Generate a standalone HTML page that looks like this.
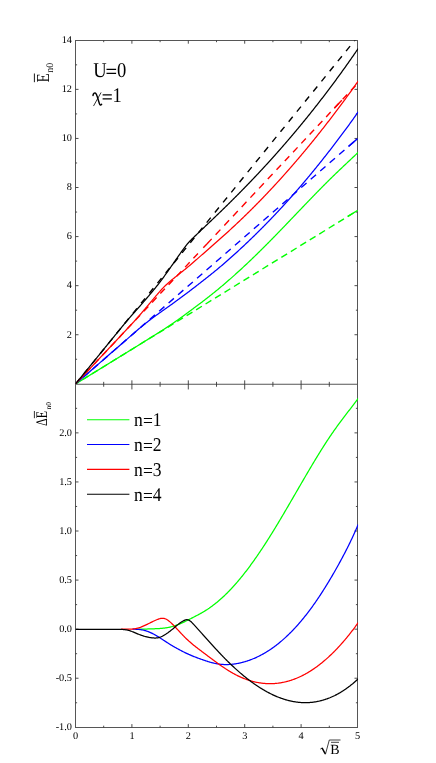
<!DOCTYPE html>
<html><head><meta charset="utf-8"><title>chart</title>
<style>
html,body{margin:0;padding:0;background:#fff;}
body{width:436px;height:763px;overflow:hidden;}
svg{display:block;font-family:"Liberation Serif",serif;fill:#000;text-rendering:geometricPrecision;will-change:transform;}
</style></head><body>
<svg width="436" height="763" viewBox="0 0 436 763">
<rect x="0" y="0" width="436" height="763" fill="#ffffff"/>
<defs><clipPath id="c1"><rect x="75.5" y="40.5" width="282.6" height="343.5"/></clipPath><clipPath id="c2"><rect x="75.5" y="384.0" width="282.6" height="343.5"/></clipPath></defs>
<g id="axes" shape-rendering="auto">
<line x1="75.50" y1="40.00" x2="75.50" y2="728.00" stroke="#565656" stroke-width="1"/>
<line x1="357.50" y1="40.00" x2="357.50" y2="728.00" stroke="#565656" stroke-width="1"/>
<line x1="75.50" y1="40.50" x2="357.50" y2="40.50" stroke="#565656" stroke-width="1"/>
<line x1="75.50" y1="384.25" x2="357.50" y2="384.25" stroke="#565656" stroke-width="1"/>
<line x1="75.50" y1="727.50" x2="357.50" y2="727.50" stroke="#565656" stroke-width="1"/>
<line x1="103.70" y1="40.50" x2="103.70" y2="42.20" stroke="#383838" stroke-width="0.9"/>
<line x1="103.70" y1="381.85" x2="103.70" y2="386.75" stroke="#383838" stroke-width="0.9"/>
<line x1="103.70" y1="725.70" x2="103.70" y2="727.50" stroke="#383838" stroke-width="0.9"/>
<line x1="131.90" y1="40.50" x2="131.90" y2="43.70" stroke="#383838" stroke-width="0.9"/>
<line x1="131.90" y1="380.35" x2="131.90" y2="389.45" stroke="#383838" stroke-width="0.9"/>
<line x1="131.90" y1="724.10" x2="131.90" y2="727.50" stroke="#383838" stroke-width="0.9"/>
<line x1="160.10" y1="40.50" x2="160.10" y2="42.20" stroke="#383838" stroke-width="0.9"/>
<line x1="160.10" y1="381.85" x2="160.10" y2="386.75" stroke="#383838" stroke-width="0.9"/>
<line x1="160.10" y1="725.70" x2="160.10" y2="727.50" stroke="#383838" stroke-width="0.9"/>
<line x1="188.30" y1="40.50" x2="188.30" y2="43.70" stroke="#383838" stroke-width="0.9"/>
<line x1="188.30" y1="380.35" x2="188.30" y2="389.45" stroke="#383838" stroke-width="0.9"/>
<line x1="188.30" y1="724.10" x2="188.30" y2="727.50" stroke="#383838" stroke-width="0.9"/>
<line x1="216.50" y1="40.50" x2="216.50" y2="42.20" stroke="#383838" stroke-width="0.9"/>
<line x1="216.50" y1="381.85" x2="216.50" y2="386.75" stroke="#383838" stroke-width="0.9"/>
<line x1="216.50" y1="725.70" x2="216.50" y2="727.50" stroke="#383838" stroke-width="0.9"/>
<line x1="244.70" y1="40.50" x2="244.70" y2="43.70" stroke="#383838" stroke-width="0.9"/>
<line x1="244.70" y1="380.35" x2="244.70" y2="389.45" stroke="#383838" stroke-width="0.9"/>
<line x1="244.70" y1="724.10" x2="244.70" y2="727.50" stroke="#383838" stroke-width="0.9"/>
<line x1="272.90" y1="40.50" x2="272.90" y2="42.20" stroke="#383838" stroke-width="0.9"/>
<line x1="272.90" y1="381.85" x2="272.90" y2="386.75" stroke="#383838" stroke-width="0.9"/>
<line x1="272.90" y1="725.70" x2="272.90" y2="727.50" stroke="#383838" stroke-width="0.9"/>
<line x1="301.10" y1="40.50" x2="301.10" y2="43.70" stroke="#383838" stroke-width="0.9"/>
<line x1="301.10" y1="380.35" x2="301.10" y2="389.45" stroke="#383838" stroke-width="0.9"/>
<line x1="301.10" y1="724.10" x2="301.10" y2="727.50" stroke="#383838" stroke-width="0.9"/>
<line x1="329.30" y1="40.50" x2="329.30" y2="42.20" stroke="#383838" stroke-width="0.9"/>
<line x1="329.30" y1="381.85" x2="329.30" y2="386.75" stroke="#383838" stroke-width="0.9"/>
<line x1="329.30" y1="725.70" x2="329.30" y2="727.50" stroke="#383838" stroke-width="0.9"/>
<line x1="75.50" y1="359.26" x2="77.10" y2="359.26" stroke="#383838" stroke-width="0.9"/>
<line x1="355.90" y1="359.26" x2="357.50" y2="359.26" stroke="#383838" stroke-width="0.9"/>
<line x1="75.50" y1="334.73" x2="78.50" y2="334.73" stroke="#383838" stroke-width="0.9"/>
<line x1="354.50" y1="334.73" x2="357.50" y2="334.73" stroke="#383838" stroke-width="0.9"/>
<line x1="75.50" y1="310.19" x2="77.10" y2="310.19" stroke="#383838" stroke-width="0.9"/>
<line x1="355.90" y1="310.19" x2="357.50" y2="310.19" stroke="#383838" stroke-width="0.9"/>
<line x1="75.50" y1="285.66" x2="78.50" y2="285.66" stroke="#383838" stroke-width="0.9"/>
<line x1="354.50" y1="285.66" x2="357.50" y2="285.66" stroke="#383838" stroke-width="0.9"/>
<line x1="75.50" y1="261.12" x2="77.10" y2="261.12" stroke="#383838" stroke-width="0.9"/>
<line x1="355.90" y1="261.12" x2="357.50" y2="261.12" stroke="#383838" stroke-width="0.9"/>
<line x1="75.50" y1="236.59" x2="78.50" y2="236.59" stroke="#383838" stroke-width="0.9"/>
<line x1="354.50" y1="236.59" x2="357.50" y2="236.59" stroke="#383838" stroke-width="0.9"/>
<line x1="75.50" y1="212.05" x2="77.10" y2="212.05" stroke="#383838" stroke-width="0.9"/>
<line x1="355.90" y1="212.05" x2="357.50" y2="212.05" stroke="#383838" stroke-width="0.9"/>
<line x1="75.50" y1="187.51" x2="78.50" y2="187.51" stroke="#383838" stroke-width="0.9"/>
<line x1="354.50" y1="187.51" x2="357.50" y2="187.51" stroke="#383838" stroke-width="0.9"/>
<line x1="75.50" y1="162.98" x2="77.10" y2="162.98" stroke="#383838" stroke-width="0.9"/>
<line x1="355.90" y1="162.98" x2="357.50" y2="162.98" stroke="#383838" stroke-width="0.9"/>
<line x1="75.50" y1="138.44" x2="78.50" y2="138.44" stroke="#383838" stroke-width="0.9"/>
<line x1="354.50" y1="138.44" x2="357.50" y2="138.44" stroke="#383838" stroke-width="0.9"/>
<line x1="75.50" y1="113.91" x2="77.10" y2="113.91" stroke="#383838" stroke-width="0.9"/>
<line x1="355.90" y1="113.91" x2="357.50" y2="113.91" stroke="#383838" stroke-width="0.9"/>
<line x1="75.50" y1="89.37" x2="78.50" y2="89.37" stroke="#383838" stroke-width="0.9"/>
<line x1="354.50" y1="89.37" x2="357.50" y2="89.37" stroke="#383838" stroke-width="0.9"/>
<line x1="75.50" y1="64.84" x2="77.10" y2="64.84" stroke="#383838" stroke-width="0.9"/>
<line x1="355.90" y1="64.84" x2="357.50" y2="64.84" stroke="#383838" stroke-width="0.9"/>
<line x1="75.50" y1="702.76" x2="77.10" y2="702.76" stroke="#383838" stroke-width="0.9"/>
<line x1="355.90" y1="702.76" x2="357.50" y2="702.76" stroke="#383838" stroke-width="0.9"/>
<line x1="75.50" y1="678.23" x2="78.50" y2="678.23" stroke="#383838" stroke-width="0.9"/>
<line x1="354.50" y1="678.23" x2="357.50" y2="678.23" stroke="#383838" stroke-width="0.9"/>
<line x1="75.50" y1="653.69" x2="77.10" y2="653.69" stroke="#383838" stroke-width="0.9"/>
<line x1="355.90" y1="653.69" x2="357.50" y2="653.69" stroke="#383838" stroke-width="0.9"/>
<line x1="75.50" y1="629.16" x2="78.50" y2="629.16" stroke="#383838" stroke-width="0.9"/>
<line x1="354.50" y1="629.16" x2="357.50" y2="629.16" stroke="#383838" stroke-width="0.9"/>
<line x1="75.50" y1="604.62" x2="77.10" y2="604.62" stroke="#383838" stroke-width="0.9"/>
<line x1="355.90" y1="604.62" x2="357.50" y2="604.62" stroke="#383838" stroke-width="0.9"/>
<line x1="75.50" y1="580.09" x2="78.50" y2="580.09" stroke="#383838" stroke-width="0.9"/>
<line x1="354.50" y1="580.09" x2="357.50" y2="580.09" stroke="#383838" stroke-width="0.9"/>
<line x1="75.50" y1="555.55" x2="77.10" y2="555.55" stroke="#383838" stroke-width="0.9"/>
<line x1="355.90" y1="555.55" x2="357.50" y2="555.55" stroke="#383838" stroke-width="0.9"/>
<line x1="75.50" y1="531.01" x2="78.50" y2="531.01" stroke="#383838" stroke-width="0.9"/>
<line x1="354.50" y1="531.01" x2="357.50" y2="531.01" stroke="#383838" stroke-width="0.9"/>
<line x1="75.50" y1="506.48" x2="77.10" y2="506.48" stroke="#383838" stroke-width="0.9"/>
<line x1="355.90" y1="506.48" x2="357.50" y2="506.48" stroke="#383838" stroke-width="0.9"/>
<line x1="75.50" y1="481.94" x2="78.50" y2="481.94" stroke="#383838" stroke-width="0.9"/>
<line x1="354.50" y1="481.94" x2="357.50" y2="481.94" stroke="#383838" stroke-width="0.9"/>
<line x1="75.50" y1="457.41" x2="77.10" y2="457.41" stroke="#383838" stroke-width="0.9"/>
<line x1="355.90" y1="457.41" x2="357.50" y2="457.41" stroke="#383838" stroke-width="0.9"/>
<line x1="75.50" y1="432.87" x2="78.50" y2="432.87" stroke="#383838" stroke-width="0.9"/>
<line x1="354.50" y1="432.87" x2="357.50" y2="432.87" stroke="#383838" stroke-width="0.9"/>
<line x1="75.50" y1="408.34" x2="77.10" y2="408.34" stroke="#383838" stroke-width="0.9"/>
<line x1="355.90" y1="408.34" x2="357.50" y2="408.34" stroke="#383838" stroke-width="0.9"/>
</g>
<g id="curves">
<g clip-path="url(#c1)">
<path d="M75.50,384.00 L200.60,250.69" stroke="#ff0000" stroke-width="1.4" fill="none" stroke-dasharray="6.6 5.49" stroke-dashoffset="9.0"/>
<path d="M203.30,247.82 L206.90,243.98" stroke="#ff0000" stroke-width="1.4" fill="none"/>
<path d="M206.90,243.98 L276.50,169.81" stroke="#ff0000" stroke-width="1.4" fill="none" stroke-dasharray="7.0 5.71" stroke-dashoffset="0"/>
<path d="M276.50,169.81 L357.50,83.50" stroke="#ff0000" stroke-width="1.4" fill="none" stroke-dasharray="6.6 5.49" stroke-dashoffset="0"/>
<path d="M334.30,108.22 L341.80,100.23" stroke="#ff0000" stroke-width="1.4" fill="none"/>
<path d="M347.80,216.47 L357.50,210.51" stroke="#00ff00" stroke-width="1.4" fill="none"/>
<path d="M348.50,146.47 L357.50,138.64" stroke="#0000ff" stroke-width="1.4" fill="none"/>
<path d="M75.50,384.00 L357.50,210.51" stroke="#00ff00" stroke-width="1.4" fill="none" stroke-dasharray="6.8 4.32" stroke-dashoffset="2.96"/>
<path d="M75.50,384.00 L357.50,138.64" stroke="#0000ff" stroke-width="1.4" fill="none" stroke-dasharray="7.0 5.56" stroke-dashoffset="2.18"/>
<path d="M75.50,384.00 L357.50,37.01" stroke="#000000" stroke-width="1.4" fill="none" stroke-dasharray="6.4 6.6" stroke-dashoffset="0"/>
<path d="M75.50,383.99 L76.06,383.64 L76.63,383.29 L77.19,382.94 L77.76,382.60 L78.32,382.25 L78.88,381.90 L79.45,381.56 L80.01,381.21 L80.58,380.86 L81.14,380.52 L81.70,380.17 L82.27,379.82 L82.83,379.47 L83.40,379.13 L83.96,378.78 L84.52,378.43 L85.09,378.09 L85.65,377.74 L86.22,377.39 L86.78,377.05 L87.34,376.70 L87.91,376.35 L88.47,376.01 L89.04,375.66 L89.60,375.31 L90.16,374.96 L90.73,374.62 L91.29,374.27 L91.86,373.92 L92.42,373.58 L92.98,373.23 L93.55,372.88 L94.11,372.54 L94.68,372.19 L95.24,371.84 L95.80,371.49 L96.37,371.15 L96.93,370.80 L97.50,370.45 L98.06,370.11 L98.62,369.76 L99.19,369.41 L99.75,369.07 L100.32,368.72 L100.88,368.37 L101.44,368.02 L102.01,367.68 L102.57,367.33 L103.14,366.98 L103.70,366.64 L104.26,366.29 L104.83,365.94 L105.39,365.60 L105.96,365.25 L106.52,364.90 L107.08,364.55 L107.65,364.21 L108.21,363.86 L108.78,363.51 L109.34,363.17 L109.90,362.82 L110.47,362.47 L111.03,362.13 L111.60,361.78 L112.16,361.43 L112.72,361.08 L113.29,360.74 L113.85,360.39 L114.42,360.04 L114.98,359.70 L115.54,359.35 L116.11,359.00 L116.67,358.66 L117.24,358.31 L117.80,357.96 L118.36,357.61 L118.93,357.27 L119.49,356.92 L120.06,356.57 L120.62,356.23 L121.18,355.88 L121.75,355.54 L122.31,355.19 L122.88,354.85 L123.44,354.50 L124.00,354.16 L124.57,353.81 L125.13,353.47 L125.70,353.12 L126.26,352.77 L126.82,352.43 L127.39,352.08 L127.95,351.73 L128.52,351.39 L129.08,351.04 L129.64,350.69 L130.21,350.34 L130.77,349.99 L131.34,349.65 L131.90,349.30 L132.46,348.95 L133.03,348.60 L133.59,348.25 L134.16,347.90 L134.72,347.55 L135.28,347.20 L135.85,346.86 L136.41,346.51 L136.98,346.16 L137.54,345.81 L138.10,345.46 L138.67,345.11 L139.23,344.76 L139.80,344.41 L140.36,344.06 L140.92,343.71 L141.49,343.36 L142.05,343.01 L142.62,342.65 L143.18,342.30 L143.74,341.95 L144.31,341.60 L144.87,341.25 L145.44,340.90 L146.00,340.55 L146.56,340.20 L147.13,339.85 L147.69,339.49 L148.26,339.14 L148.82,338.79 L149.38,338.44 L149.95,338.09 L150.51,337.74 L151.08,337.38 L151.64,337.03 L152.20,336.68 L152.77,336.33 L153.33,335.98 L153.90,335.63 L154.46,335.27 L155.02,334.92 L155.59,334.57 L156.15,334.22 L156.72,333.86 L157.28,333.51 L157.84,333.15 L158.41,332.80 L158.97,332.44 L159.54,332.09 L160.10,331.73 L160.66,331.37 L161.23,331.02 L161.79,330.66 L162.36,330.30 L162.92,329.94 L163.48,329.57 L164.05,329.21 L164.61,328.85 L165.18,328.48 L165.74,328.11 L166.30,327.75 L166.87,327.38 L167.43,327.01 L168.00,326.63 L168.56,326.26 L169.12,325.88 L169.69,325.51 L170.25,325.13 L170.82,324.75 L171.38,324.36 L171.94,323.98 L172.51,323.59 L173.07,323.21 L173.64,322.82 L174.20,322.43 L174.76,322.03 L175.33,321.64 L175.89,321.24 L176.46,320.85 L177.02,320.45 L177.58,320.05 L178.15,319.65 L178.71,319.25 L179.28,318.84 L179.84,318.44 L180.40,318.03 L180.97,317.62 L181.53,317.21 L182.10,316.80 L182.66,316.39 L183.22,315.98 L183.79,315.57 L184.35,315.15 L184.92,314.74 L185.48,314.33 L186.04,313.91 L186.61,313.49 L187.17,313.08 L187.74,312.66 L188.30,312.24 L188.86,311.82 L189.43,311.40 L189.99,310.98 L190.56,310.56 L191.12,310.14 L191.68,309.72 L192.25,309.30 L192.81,308.88 L193.38,308.46 L193.94,308.04 L194.50,307.62 L195.07,307.20 L195.63,306.78 L196.20,306.36 L196.76,305.94 L197.32,305.52 L197.89,305.10 L198.45,304.68 L199.02,304.25 L199.58,303.83 L200.14,303.41 L200.71,302.98 L201.27,302.56 L201.84,302.13 L202.40,301.70 L202.96,301.27 L203.53,300.84 L204.09,300.41 L204.66,299.98 L205.22,299.54 L205.78,299.11 L206.35,298.67 L206.91,298.23 L207.48,297.79 L208.04,297.35 L208.60,296.91 L209.17,296.46 L209.73,296.02 L210.30,295.57 L210.86,295.12 L211.42,294.68 L211.99,294.22 L212.55,293.77 L213.12,293.32 L213.68,292.87 L214.24,292.41 L214.81,291.95 L215.37,291.49 L215.94,291.03 L216.50,290.57 L217.06,290.11 L217.63,289.65 L218.19,289.18 L218.76,288.72 L219.32,288.25 L219.88,287.78 L220.45,287.31 L221.01,286.84 L221.58,286.36 L222.14,285.89 L222.70,285.41 L223.27,284.93 L223.83,284.46 L224.40,283.98 L224.96,283.49 L225.52,283.01 L226.09,282.53 L226.65,282.04 L227.22,281.55 L227.78,281.07 L228.34,280.58 L228.91,280.09 L229.47,279.59 L230.04,279.10 L230.60,278.60 L231.16,278.11 L231.73,277.61 L232.29,277.11 L232.86,276.61 L233.42,276.11 L233.98,275.61 L234.55,275.10 L235.11,274.60 L235.68,274.09 L236.24,273.58 L236.80,273.07 L237.37,272.56 L237.93,272.05 L238.50,271.53 L239.06,271.02 L239.62,270.50 L240.19,269.99 L240.75,269.47 L241.32,268.95 L241.88,268.43 L242.44,267.90 L243.01,267.38 L243.57,266.86 L244.14,266.33 L244.70,265.80 L245.26,265.28 L245.83,264.75 L246.39,264.22 L246.96,263.68 L247.52,263.15 L248.08,262.62 L248.65,262.08 L249.21,261.55 L249.78,261.01 L250.34,260.47 L250.90,259.93 L251.47,259.39 L252.03,258.85 L252.60,258.31 L253.16,257.76 L253.72,257.22 L254.29,256.67 L254.85,256.13 L255.42,255.58 L255.98,255.03 L256.54,254.48 L257.11,253.93 L257.67,253.38 L258.24,252.82 L258.80,252.27 L259.36,251.72 L259.93,251.16 L260.49,250.60 L261.06,250.05 L261.62,249.49 L262.18,248.93 L262.75,248.37 L263.31,247.80 L263.88,247.24 L264.44,246.68 L265.00,246.11 L265.57,245.55 L266.13,244.98 L266.70,244.42 L267.26,243.85 L267.82,243.28 L268.39,242.71 L268.95,242.14 L269.52,241.57 L270.08,241.00 L270.64,240.43 L271.21,239.85 L271.77,239.28 L272.34,238.70 L272.90,238.13 L273.46,237.55 L274.03,236.97 L274.59,236.40 L275.16,235.82 L275.72,235.24 L276.28,234.66 L276.85,234.08 L277.41,233.50 L277.98,232.92 L278.54,232.33 L279.10,231.75 L279.67,231.17 L280.23,230.59 L280.80,230.00 L281.36,229.42 L281.92,228.83 L282.49,228.25 L283.05,227.66 L283.62,227.08 L284.18,226.49 L284.74,225.90 L285.31,225.32 L285.87,224.73 L286.44,224.14 L287.00,223.55 L287.56,222.96 L288.13,222.37 L288.69,221.79 L289.26,221.20 L289.82,220.61 L290.38,220.02 L290.95,219.43 L291.51,218.84 L292.08,218.25 L292.64,217.66 L293.20,217.07 L293.77,216.48 L294.33,215.89 L294.90,215.30 L295.46,214.71 L296.02,214.12 L296.59,213.53 L297.15,212.94 L297.72,212.35 L298.28,211.76 L298.84,211.17 L299.41,210.58 L299.97,209.99 L300.54,209.40 L301.10,208.81 L301.66,208.22 L302.23,207.63 L302.79,207.04 L303.36,206.45 L303.92,205.86 L304.48,205.27 L305.05,204.68 L305.61,204.09 L306.18,203.51 L306.74,202.92 L307.30,202.33 L307.87,201.74 L308.43,201.16 L309.00,200.57 L309.56,199.99 L310.12,199.40 L310.69,198.82 L311.25,198.23 L311.82,197.65 L312.38,197.06 L312.94,196.48 L313.51,195.90 L314.07,195.32 L314.64,194.74 L315.20,194.16 L315.76,193.58 L316.33,193.00 L316.89,192.42 L317.46,191.84 L318.02,191.26 L318.58,190.69 L319.15,190.11 L319.71,189.53 L320.28,188.96 L320.84,188.39 L321.40,187.82 L321.97,187.24 L322.53,186.67 L323.10,186.10 L323.66,185.53 L324.22,184.97 L324.79,184.40 L325.35,183.83 L325.92,183.27 L326.48,182.71 L327.04,182.14 L327.61,181.58 L328.17,181.02 L328.74,180.46 L329.30,179.90 L329.86,179.35 L330.43,178.79 L330.99,178.24 L331.56,177.68 L332.12,177.13 L332.68,176.58 L333.25,176.03 L333.81,175.48 L334.38,174.94 L334.94,174.39 L335.50,173.84 L336.07,173.30 L336.63,172.76 L337.20,172.22 L337.76,171.68 L338.32,171.14 L338.89,170.60 L339.45,170.06 L340.02,169.52 L340.58,168.99 L341.14,168.45 L341.71,167.92 L342.27,167.38 L342.84,166.85 L343.40,166.31 L343.96,165.78 L344.53,165.25 L345.09,164.72 L345.66,164.18 L346.22,163.65 L346.78,163.12 L347.35,162.59 L347.91,162.06 L348.48,161.53 L349.04,161.00 L349.60,160.47 L350.17,159.94 L350.73,159.40 L351.30,158.87 L351.86,158.34 L352.42,157.81 L352.99,157.28 L353.55,156.75 L354.12,156.22 L354.68,155.68 L355.24,155.15 L355.81,154.62 L356.37,154.09 L356.94,153.55 L357.50,153.02 L358.20,152.35" stroke="#00ff00" stroke-width="1.25" fill="none" stroke-linejoin="round" stroke-linecap="butt"/>
<path d="M75.50,383.99 L76.06,383.50 L76.63,383.00 L77.19,382.51 L77.76,382.02 L78.32,381.53 L78.88,381.04 L79.45,380.55 L80.01,380.06 L80.58,379.57 L81.14,379.08 L81.70,378.59 L82.27,378.10 L82.83,377.61 L83.40,377.12 L83.96,376.62 L84.52,376.13 L85.09,375.64 L85.65,375.15 L86.22,374.66 L86.78,374.17 L87.34,373.68 L87.91,373.19 L88.47,372.70 L89.04,372.21 L89.60,371.72 L90.16,371.23 L90.73,370.74 L91.29,370.25 L91.86,369.75 L92.42,369.26 L92.98,368.77 L93.55,368.28 L94.11,367.79 L94.68,367.30 L95.24,366.81 L95.80,366.32 L96.37,365.83 L96.93,365.34 L97.50,364.85 L98.06,364.36 L98.62,363.87 L99.19,363.38 L99.75,362.88 L100.32,362.39 L100.88,361.90 L101.44,361.41 L102.01,360.92 L102.57,360.43 L103.14,359.94 L103.70,359.45 L104.26,358.96 L104.83,358.47 L105.39,357.98 L105.96,357.49 L106.52,357.00 L107.08,356.51 L107.65,356.01 L108.21,355.52 L108.78,355.03 L109.34,354.54 L109.90,354.05 L110.47,353.56 L111.03,353.07 L111.60,352.58 L112.16,352.09 L112.72,351.60 L113.29,351.11 L113.85,350.62 L114.42,350.13 L114.98,349.64 L115.54,349.14 L116.11,348.65 L116.67,348.16 L117.24,347.67 L117.80,347.18 L118.36,346.69 L118.93,346.20 L119.49,345.71 L120.06,345.22 L120.62,344.74 L121.18,344.26 L121.75,343.77 L122.31,343.29 L122.88,342.80 L123.44,342.31 L124.00,341.82 L124.57,341.33 L125.13,340.84 L125.70,340.34 L126.26,339.85 L126.82,339.36 L127.39,338.86 L127.95,338.37 L128.52,337.87 L129.08,337.38 L129.64,336.88 L130.21,336.39 L130.77,335.89 L131.34,335.40 L131.90,334.90 L132.46,334.41 L133.03,333.92 L133.59,333.43 L134.16,332.93 L134.72,332.45 L135.28,331.96 L135.85,331.47 L136.41,330.98 L136.98,330.50 L137.54,330.02 L138.10,329.54 L138.67,329.06 L139.23,328.58 L139.80,328.11 L140.36,327.64 L140.92,327.16 L141.49,326.70 L142.05,326.23 L142.62,325.77 L143.18,325.31 L143.74,324.85 L144.31,324.39 L144.87,323.94 L145.44,323.49 L146.00,323.04 L146.56,322.59 L147.13,322.15 L147.69,321.71 L148.26,321.27 L148.82,320.83 L149.38,320.40 L149.95,319.97 L150.51,319.54 L151.08,319.12 L151.64,318.69 L152.20,318.27 L152.77,317.85 L153.33,317.43 L153.90,317.02 L154.46,316.60 L155.02,316.19 L155.59,315.78 L156.15,315.37 L156.72,314.96 L157.28,314.56 L157.84,314.15 L158.41,313.75 L158.97,313.34 L159.54,312.94 L160.10,312.54 L160.66,312.14 L161.23,311.74 L161.79,311.34 L162.36,310.94 L162.92,310.55 L163.48,310.15 L164.05,309.75 L164.61,309.35 L165.18,308.95 L165.74,308.55 L166.30,308.16 L166.87,307.76 L167.43,307.36 L168.00,306.96 L168.56,306.56 L169.12,306.15 L169.69,305.75 L170.25,305.35 L170.82,304.94 L171.38,304.54 L171.94,304.13 L172.51,303.72 L173.07,303.32 L173.64,302.91 L174.20,302.50 L174.76,302.09 L175.33,301.68 L175.89,301.27 L176.46,300.85 L177.02,300.44 L177.58,300.03 L178.15,299.61 L178.71,299.20 L179.28,298.79 L179.84,298.37 L180.40,297.96 L180.97,297.54 L181.53,297.12 L182.10,296.71 L182.66,296.29 L183.22,295.87 L183.79,295.45 L184.35,295.03 L184.92,294.61 L185.48,294.19 L186.04,293.76 L186.61,293.34 L187.17,292.91 L187.74,292.49 L188.30,292.06 L188.86,291.63 L189.43,291.21 L189.99,290.78 L190.56,290.35 L191.12,289.91 L191.68,289.48 L192.25,289.05 L192.81,288.62 L193.38,288.18 L193.94,287.75 L194.50,287.31 L195.07,286.88 L195.63,286.44 L196.20,286.01 L196.76,285.57 L197.32,285.13 L197.89,284.69 L198.45,284.25 L199.02,283.81 L199.58,283.37 L200.14,282.93 L200.71,282.49 L201.27,282.05 L201.84,281.61 L202.40,281.17 L202.96,280.73 L203.53,280.29 L204.09,279.84 L204.66,279.40 L205.22,278.96 L205.78,278.51 L206.35,278.07 L206.91,277.62 L207.48,277.18 L208.04,276.73 L208.60,276.28 L209.17,275.84 L209.73,275.39 L210.30,274.94 L210.86,274.49 L211.42,274.03 L211.99,273.58 L212.55,273.13 L213.12,272.67 L213.68,272.21 L214.24,271.76 L214.81,271.30 L215.37,270.84 L215.94,270.37 L216.50,269.91 L217.06,269.44 L217.63,268.98 L218.19,268.51 L218.76,268.04 L219.32,267.56 L219.88,267.09 L220.45,266.62 L221.01,266.14 L221.58,265.66 L222.14,265.18 L222.70,264.70 L223.27,264.22 L223.83,263.73 L224.40,263.25 L224.96,262.76 L225.52,262.27 L226.09,261.78 L226.65,261.29 L227.22,260.80 L227.78,260.30 L228.34,259.81 L228.91,259.31 L229.47,258.81 L230.04,258.31 L230.60,257.81 L231.16,257.31 L231.73,256.81 L232.29,256.30 L232.86,255.79 L233.42,255.29 L233.98,254.78 L234.55,254.27 L235.11,253.76 L235.68,253.24 L236.24,252.73 L236.80,252.22 L237.37,251.70 L237.93,251.18 L238.50,250.66 L239.06,250.14 L239.62,249.62 L240.19,249.10 L240.75,248.58 L241.32,248.05 L241.88,247.53 L242.44,247.00 L243.01,246.47 L243.57,245.95 L244.14,245.42 L244.70,244.88 L245.26,244.35 L245.83,243.82 L246.39,243.29 L246.96,242.75 L247.52,242.21 L248.08,241.68 L248.65,241.14 L249.21,240.60 L249.78,240.05 L250.34,239.51 L250.90,238.97 L251.47,238.42 L252.03,237.88 L252.60,237.33 L253.16,236.78 L253.72,236.23 L254.29,235.68 L254.85,235.13 L255.42,234.58 L255.98,234.02 L256.54,233.47 L257.11,232.91 L257.67,232.36 L258.24,231.80 L258.80,231.24 L259.36,230.68 L259.93,230.11 L260.49,229.55 L261.06,228.98 L261.62,228.42 L262.18,227.85 L262.75,227.28 L263.31,226.71 L263.88,226.14 L264.44,225.57 L265.00,225.00 L265.57,224.42 L266.13,223.85 L266.70,223.27 L267.26,222.69 L267.82,222.11 L268.39,221.53 L268.95,220.95 L269.52,220.37 L270.08,219.78 L270.64,219.20 L271.21,218.61 L271.77,218.02 L272.34,217.43 L272.90,216.84 L273.46,216.25 L274.03,215.65 L274.59,215.06 L275.16,214.46 L275.72,213.87 L276.28,213.27 L276.85,212.67 L277.41,212.07 L277.98,211.47 L278.54,210.86 L279.10,210.26 L279.67,209.65 L280.23,209.04 L280.80,208.44 L281.36,207.83 L281.92,207.21 L282.49,206.60 L283.05,205.99 L283.62,205.37 L284.18,204.76 L284.74,204.14 L285.31,203.52 L285.87,202.90 L286.44,202.28 L287.00,201.65 L287.56,201.03 L288.13,200.40 L288.69,199.78 L289.26,199.15 L289.82,198.52 L290.38,197.89 L290.95,197.25 L291.51,196.62 L292.08,195.99 L292.64,195.35 L293.20,194.71 L293.77,194.07 L294.33,193.43 L294.90,192.79 L295.46,192.15 L296.02,191.50 L296.59,190.85 L297.15,190.21 L297.72,189.56 L298.28,188.91 L298.84,188.26 L299.41,187.60 L299.97,186.95 L300.54,186.29 L301.10,185.64 L301.66,184.98 L302.23,184.32 L302.79,183.66 L303.36,182.99 L303.92,182.33 L304.48,181.66 L305.05,181.00 L305.61,180.33 L306.18,179.66 L306.74,178.99 L307.30,178.31 L307.87,177.64 L308.43,176.96 L309.00,176.29 L309.56,175.61 L310.12,174.93 L310.69,174.25 L311.25,173.56 L311.82,172.88 L312.38,172.19 L312.94,171.51 L313.51,170.82 L314.07,170.13 L314.64,169.44 L315.20,168.75 L315.76,168.05 L316.33,167.36 L316.89,166.66 L317.46,165.96 L318.02,165.26 L318.58,164.56 L319.15,163.86 L319.71,163.16 L320.28,162.45 L320.84,161.74 L321.40,161.04 L321.97,160.33 L322.53,159.62 L323.10,158.91 L323.66,158.19 L324.22,157.48 L324.79,156.76 L325.35,156.05 L325.92,155.33 L326.48,154.61 L327.04,153.89 L327.61,153.17 L328.17,152.45 L328.74,151.72 L329.30,151.00 L329.86,150.27 L330.43,149.54 L330.99,148.81 L331.56,148.08 L332.12,147.35 L332.68,146.62 L333.25,145.88 L333.81,145.15 L334.38,144.41 L334.94,143.68 L335.50,142.94 L336.07,142.20 L336.63,141.46 L337.20,140.71 L337.76,139.97 L338.32,139.23 L338.89,138.48 L339.45,137.73 L340.02,136.98 L340.58,136.24 L341.14,135.48 L341.71,134.73 L342.27,133.98 L342.84,133.22 L343.40,132.47 L343.96,131.71 L344.53,130.95 L345.09,130.19 L345.66,129.42 L346.22,128.66 L346.78,127.89 L347.35,127.12 L347.91,126.34 L348.48,125.57 L349.04,124.79 L349.60,124.01 L350.17,123.23 L350.73,122.45 L351.30,121.66 L351.86,120.87 L352.42,120.08 L352.99,119.29 L353.55,118.49 L354.12,117.69 L354.68,116.88 L355.24,116.08 L355.81,115.27 L356.37,114.45 L356.94,113.64 L357.50,112.82 L358.20,111.80" stroke="#0000ff" stroke-width="1.25" fill="none" stroke-linejoin="round" stroke-linecap="butt"/>
<path d="M75.50,383.99 L76.06,383.38 L76.63,382.78 L77.19,382.18 L77.76,381.58 L78.32,380.98 L78.88,380.38 L79.45,379.78 L80.01,379.18 L80.58,378.58 L81.14,377.98 L81.70,377.37 L82.27,376.77 L82.83,376.17 L83.40,375.57 L83.96,374.97 L84.52,374.37 L85.09,373.77 L85.65,373.17 L86.22,372.57 L86.78,371.97 L87.34,371.36 L87.91,370.76 L88.47,370.16 L89.04,369.56 L89.60,368.96 L90.16,368.36 L90.73,367.76 L91.29,367.16 L91.86,366.56 L92.42,365.96 L92.98,365.35 L93.55,364.75 L94.11,364.15 L94.68,363.55 L95.24,362.95 L95.80,362.35 L96.37,361.75 L96.93,361.15 L97.50,360.55 L98.06,359.95 L98.62,359.34 L99.19,358.74 L99.75,358.14 L100.32,357.54 L100.88,356.94 L101.44,356.34 L102.01,355.74 L102.57,355.14 L103.14,354.54 L103.70,353.94 L104.26,353.33 L104.83,352.73 L105.39,352.13 L105.96,351.53 L106.52,350.93 L107.08,350.33 L107.65,349.73 L108.21,349.13 L108.78,348.53 L109.34,347.93 L109.90,347.32 L110.47,346.72 L111.03,346.12 L111.60,345.52 L112.16,344.92 L112.72,344.32 L113.29,343.72 L113.85,343.12 L114.42,342.52 L114.98,341.92 L115.54,341.31 L116.11,340.71 L116.67,340.11 L117.24,339.51 L117.80,338.91 L118.36,338.31 L118.93,337.71 L119.49,337.11 L120.06,336.51 L120.62,335.90 L121.18,335.29 L121.75,334.69 L122.31,334.08 L122.88,333.48 L123.44,332.88 L124.00,332.27 L124.57,331.67 L125.13,331.07 L125.70,330.47 L126.26,329.87 L126.82,329.27 L127.39,328.67 L127.95,328.07 L128.52,327.46 L129.08,326.86 L129.64,326.26 L130.21,325.65 L130.77,325.04 L131.34,324.44 L131.90,323.83 L132.46,323.21 L133.03,322.60 L133.59,321.98 L134.16,321.37 L134.72,320.74 L135.28,320.12 L135.85,319.49 L136.41,318.86 L136.98,318.23 L137.54,317.59 L138.10,316.95 L138.67,316.31 L139.23,315.67 L139.80,315.02 L140.36,314.37 L140.92,313.72 L141.49,313.06 L142.05,312.41 L142.62,311.75 L143.18,311.09 L143.74,310.42 L144.31,309.76 L144.87,309.10 L145.44,308.43 L146.00,307.76 L146.56,307.09 L147.13,306.42 L147.69,305.75 L148.26,305.08 L148.82,304.41 L149.38,303.74 L149.95,303.07 L150.51,302.40 L151.08,301.73 L151.64,301.06 L152.20,300.38 L152.77,299.71 L153.33,299.04 L153.90,298.38 L154.46,297.71 L155.02,297.04 L155.59,296.38 L156.15,295.72 L156.72,295.05 L157.28,294.40 L157.84,293.74 L158.41,293.09 L158.97,292.44 L159.54,291.80 L160.10,291.16 L160.66,290.52 L161.23,289.90 L161.79,289.28 L162.36,288.67 L162.92,288.07 L163.48,287.48 L164.05,286.90 L164.61,286.34 L165.18,285.79 L165.74,285.25 L166.30,284.71 L166.87,284.19 L167.43,283.68 L168.00,283.17 L168.56,282.67 L169.12,282.18 L169.69,281.70 L170.25,281.22 L170.82,280.75 L171.38,280.28 L171.94,279.81 L172.51,279.35 L173.07,278.89 L173.64,278.43 L174.20,277.98 L174.76,277.53 L175.33,277.07 L175.89,276.62 L176.46,276.17 L177.02,275.72 L177.58,275.27 L178.15,274.82 L178.71,274.38 L179.28,273.93 L179.84,273.48 L180.40,273.03 L180.97,272.58 L181.53,272.13 L182.10,271.68 L182.66,271.22 L183.22,270.77 L183.79,270.32 L184.35,269.86 L184.92,269.40 L185.48,268.94 L186.04,268.48 L186.61,268.01 L187.17,267.55 L187.74,267.08 L188.30,266.61 L188.86,266.13 L189.43,265.66 L189.99,265.18 L190.56,264.70 L191.12,264.22 L191.68,263.74 L192.25,263.26 L192.81,262.77 L193.38,262.29 L193.94,261.80 L194.50,261.31 L195.07,260.82 L195.63,260.33 L196.20,259.84 L196.76,259.35 L197.32,258.86 L197.89,258.36 L198.45,257.87 L199.02,257.37 L199.58,256.88 L200.14,256.39 L200.71,255.89 L201.27,255.40 L201.84,254.90 L202.40,254.41 L202.96,253.91 L203.53,253.42 L204.09,252.92 L204.66,252.43 L205.22,251.93 L205.78,251.44 L206.35,250.94 L206.91,250.45 L207.48,249.95 L208.04,249.46 L208.60,248.97 L209.17,248.47 L209.73,247.98 L210.30,247.48 L210.86,246.99 L211.42,246.49 L211.99,246.00 L212.55,245.50 L213.12,245.00 L213.68,244.51 L214.24,244.01 L214.81,243.51 L215.37,243.02 L215.94,242.52 L216.50,242.02 L217.06,241.52 L217.63,241.02 L218.19,240.52 L218.76,240.02 L219.32,239.52 L219.88,239.02 L220.45,238.52 L221.01,238.02 L221.58,237.52 L222.14,237.01 L222.70,236.51 L223.27,236.00 L223.83,235.50 L224.40,234.99 L224.96,234.48 L225.52,233.97 L226.09,233.46 L226.65,232.95 L227.22,232.44 L227.78,231.93 L228.34,231.42 L228.91,230.91 L229.47,230.39 L230.04,229.87 L230.60,229.36 L231.16,228.84 L231.73,228.32 L232.29,227.80 L232.86,227.28 L233.42,226.76 L233.98,226.23 L234.55,225.71 L235.11,225.18 L235.68,224.66 L236.24,224.13 L236.80,223.60 L237.37,223.07 L237.93,222.53 L238.50,222.00 L239.06,221.47 L239.62,220.93 L240.19,220.39 L240.75,219.86 L241.32,219.32 L241.88,218.78 L242.44,218.24 L243.01,217.69 L243.57,217.15 L244.14,216.60 L244.70,216.06 L245.26,215.51 L245.83,214.96 L246.39,214.41 L246.96,213.86 L247.52,213.31 L248.08,212.76 L248.65,212.20 L249.21,211.65 L249.78,211.09 L250.34,210.53 L250.90,209.97 L251.47,209.41 L252.03,208.85 L252.60,208.29 L253.16,207.72 L253.72,207.16 L254.29,206.59 L254.85,206.02 L255.42,205.45 L255.98,204.88 L256.54,204.31 L257.11,203.74 L257.67,203.16 L258.24,202.59 L258.80,202.01 L259.36,201.44 L259.93,200.86 L260.49,200.28 L261.06,199.70 L261.62,199.11 L262.18,198.53 L262.75,197.95 L263.31,197.36 L263.88,196.77 L264.44,196.18 L265.00,195.59 L265.57,195.00 L266.13,194.41 L266.70,193.82 L267.26,193.22 L267.82,192.63 L268.39,192.03 L268.95,191.43 L269.52,190.83 L270.08,190.23 L270.64,189.63 L271.21,189.03 L271.77,188.42 L272.34,187.82 L272.90,187.21 L273.46,186.61 L274.03,186.00 L274.59,185.39 L275.16,184.77 L275.72,184.16 L276.28,183.55 L276.85,182.93 L277.41,182.32 L277.98,181.70 L278.54,181.08 L279.10,180.46 L279.67,179.84 L280.23,179.22 L280.80,178.59 L281.36,177.97 L281.92,177.34 L282.49,176.71 L283.05,176.08 L283.62,175.45 L284.18,174.82 L284.74,174.19 L285.31,173.56 L285.87,172.92 L286.44,172.29 L287.00,171.65 L287.56,171.01 L288.13,170.37 L288.69,169.73 L289.26,169.09 L289.82,168.44 L290.38,167.80 L290.95,167.15 L291.51,166.51 L292.08,165.86 L292.64,165.21 L293.20,164.56 L293.77,163.90 L294.33,163.25 L294.90,162.60 L295.46,161.94 L296.02,161.28 L296.59,160.63 L297.15,159.97 L297.72,159.30 L298.28,158.64 L298.84,157.98 L299.41,157.31 L299.97,156.65 L300.54,155.98 L301.10,155.31 L301.66,154.64 L302.23,153.97 L302.79,153.30 L303.36,152.63 L303.92,151.95 L304.48,151.28 L305.05,150.60 L305.61,149.92 L306.18,149.24 L306.74,148.56 L307.30,147.88 L307.87,147.20 L308.43,146.51 L309.00,145.82 L309.56,145.14 L310.12,144.45 L310.69,143.76 L311.25,143.07 L311.82,142.38 L312.38,141.68 L312.94,140.99 L313.51,140.29 L314.07,139.59 L314.64,138.90 L315.20,138.20 L315.76,137.50 L316.33,136.79 L316.89,136.09 L317.46,135.38 L318.02,134.68 L318.58,133.97 L319.15,133.26 L319.71,132.55 L320.28,131.84 L320.84,131.13 L321.40,130.42 L321.97,129.70 L322.53,128.98 L323.10,128.27 L323.66,127.55 L324.22,126.83 L324.79,126.11 L325.35,125.38 L325.92,124.66 L326.48,123.94 L327.04,123.21 L327.61,122.48 L328.17,121.75 L328.74,121.02 L329.30,120.29 L329.86,119.56 L330.43,118.82 L330.99,118.09 L331.56,117.35 L332.12,116.61 L332.68,115.87 L333.25,115.13 L333.81,114.39 L334.38,113.65 L334.94,112.91 L335.50,112.16 L336.07,111.41 L336.63,110.66 L337.20,109.92 L337.76,109.16 L338.32,108.41 L338.89,107.66 L339.45,106.90 L340.02,106.15 L340.58,105.39 L341.14,104.63 L341.71,103.87 L342.27,103.11 L342.84,102.35 L343.40,101.59 L343.96,100.82 L344.53,100.06 L345.09,99.29 L345.66,98.52 L346.22,97.75 L346.78,96.98 L347.35,96.21 L347.91,95.43 L348.48,94.66 L349.04,93.88 L349.60,93.10 L350.17,92.32 L350.73,91.54 L351.30,90.76 L351.86,89.98 L352.42,89.19 L352.99,88.41 L353.55,87.62 L354.12,86.83 L354.68,86.04 L355.24,85.25 L355.81,84.46 L356.37,83.67 L356.94,82.87 L357.50,82.08 L358.20,81.09" stroke="#ff0000" stroke-width="1.25" fill="none" stroke-linejoin="round" stroke-linecap="butt"/>
<path d="M75.50,383.99 L76.06,383.29 L76.63,382.60 L77.19,381.90 L77.76,381.21 L78.32,380.52 L78.88,379.82 L79.45,379.13 L80.01,378.43 L80.58,377.74 L81.14,377.05 L81.70,376.35 L82.27,375.66 L82.83,374.96 L83.40,374.27 L83.96,373.58 L84.52,372.88 L85.09,372.19 L85.65,371.49 L86.22,370.80 L86.78,370.11 L87.34,369.41 L87.91,368.72 L88.47,368.02 L89.04,367.33 L89.60,366.64 L90.16,365.94 L90.73,365.25 L91.29,364.55 L91.86,363.86 L92.42,363.17 L92.98,362.47 L93.55,361.78 L94.11,361.08 L94.68,360.39 L95.24,359.70 L95.80,359.00 L96.37,358.31 L96.93,357.61 L97.50,356.92 L98.06,356.23 L98.62,355.53 L99.19,354.84 L99.75,354.14 L100.32,353.45 L100.88,352.76 L101.44,352.06 L102.01,351.37 L102.57,350.67 L103.14,349.98 L103.70,349.29 L104.26,348.59 L104.83,347.90 L105.39,347.21 L105.96,346.51 L106.52,345.82 L107.08,345.12 L107.65,344.43 L108.21,343.74 L108.78,343.04 L109.34,342.35 L109.90,341.65 L110.47,340.96 L111.03,340.27 L111.60,339.57 L112.16,338.88 L112.72,338.18 L113.29,337.49 L113.85,336.80 L114.42,336.10 L114.98,335.41 L115.54,334.72 L116.11,334.03 L116.67,333.34 L117.24,332.65 L117.80,331.96 L118.36,331.26 L118.93,330.57 L119.49,329.88 L120.06,329.19 L120.62,328.50 L121.18,327.81 L121.75,327.12 L122.31,326.43 L122.88,325.74 L123.44,325.06 L124.00,324.37 L124.57,323.69 L125.13,323.02 L125.70,322.34 L126.26,321.67 L126.82,321.00 L127.39,320.33 L127.95,319.67 L128.52,319.01 L129.08,318.36 L129.64,317.71 L130.21,317.06 L130.77,316.42 L131.34,315.78 L131.90,315.14 L132.46,314.50 L133.03,313.86 L133.59,313.23 L134.16,312.59 L134.72,311.96 L135.28,311.32 L135.85,310.69 L136.41,310.06 L136.98,309.42 L137.54,308.78 L138.10,308.15 L138.67,307.51 L139.23,306.87 L139.80,306.23 L140.36,305.59 L140.92,304.94 L141.49,304.30 L142.05,303.65 L142.62,303.01 L143.18,302.36 L143.74,301.71 L144.31,301.05 L144.87,300.40 L145.44,299.75 L146.00,299.09 L146.56,298.43 L147.13,297.77 L147.69,297.11 L148.26,296.45 L148.82,295.78 L149.38,295.11 L149.95,294.44 L150.51,293.77 L151.08,293.10 L151.64,292.42 L152.20,291.74 L152.77,291.06 L153.33,290.38 L153.90,289.69 L154.46,289.01 L155.02,288.31 L155.59,287.62 L156.15,286.92 L156.72,286.21 L157.28,285.50 L157.84,284.79 L158.41,284.07 L158.97,283.34 L159.54,282.60 L160.10,281.86 L160.66,281.12 L161.23,280.36 L161.79,279.60 L162.36,278.84 L162.92,278.07 L163.48,277.30 L164.05,276.52 L164.61,275.74 L165.18,274.96 L165.74,274.17 L166.30,273.38 L166.87,272.60 L167.43,271.80 L168.00,271.01 L168.56,270.22 L169.12,269.42 L169.69,268.62 L170.25,267.82 L170.82,267.01 L171.38,266.21 L171.94,265.40 L172.51,264.59 L173.07,263.78 L173.64,262.97 L174.20,262.16 L174.76,261.34 L175.33,260.52 L175.89,259.71 L176.46,258.89 L177.02,258.08 L177.58,257.27 L178.15,256.46 L178.71,255.65 L179.28,254.84 L179.84,254.04 L180.40,253.25 L180.97,252.46 L181.53,251.67 L182.10,250.89 L182.66,250.12 L183.22,249.35 L183.79,248.58 L184.35,247.82 L184.92,247.06 L185.48,246.32 L186.04,245.59 L186.61,244.88 L187.17,244.18 L187.74,243.51 L188.30,242.86 L188.86,242.22 L189.43,241.61 L189.99,241.01 L190.56,240.42 L191.12,239.85 L191.68,239.29 L192.25,238.73 L192.81,238.18 L193.38,237.64 L193.94,237.10 L194.50,236.56 L195.07,236.02 L195.63,235.48 L196.20,234.94 L196.76,234.41 L197.32,233.87 L197.89,233.33 L198.45,232.79 L199.02,232.26 L199.58,231.72 L200.14,231.18 L200.71,230.65 L201.27,230.11 L201.84,229.57 L202.40,229.04 L202.96,228.50 L203.53,227.96 L204.09,227.43 L204.66,226.89 L205.22,226.36 L205.78,225.82 L206.35,225.28 L206.91,224.75 L207.48,224.21 L208.04,223.67 L208.60,223.14 L209.17,222.60 L209.73,222.06 L210.30,221.52 L210.86,220.99 L211.42,220.45 L211.99,219.91 L212.55,219.37 L213.12,218.83 L213.68,218.29 L214.24,217.75 L214.81,217.21 L215.37,216.67 L215.94,216.13 L216.50,215.59 L217.06,215.05 L217.63,214.50 L218.19,213.96 L218.76,213.42 L219.32,212.87 L219.88,212.33 L220.45,211.78 L221.01,211.24 L221.58,210.69 L222.14,210.15 L222.70,209.60 L223.27,209.05 L223.83,208.50 L224.40,207.95 L224.96,207.40 L225.52,206.85 L226.09,206.30 L226.65,205.74 L227.22,205.19 L227.78,204.64 L228.34,204.08 L228.91,203.52 L229.47,202.97 L230.04,202.41 L230.60,201.85 L231.16,201.29 L231.73,200.73 L232.29,200.17 L232.86,199.61 L233.42,199.05 L233.98,198.49 L234.55,197.92 L235.11,197.36 L235.68,196.79 L236.24,196.23 L236.80,195.66 L237.37,195.09 L237.93,194.52 L238.50,193.95 L239.06,193.38 L239.62,192.81 L240.19,192.24 L240.75,191.66 L241.32,191.09 L241.88,190.52 L242.44,189.94 L243.01,189.36 L243.57,188.79 L244.14,188.21 L244.70,187.63 L245.26,187.05 L245.83,186.47 L246.39,185.89 L246.96,185.30 L247.52,184.72 L248.08,184.14 L248.65,183.55 L249.21,182.96 L249.78,182.38 L250.34,181.79 L250.90,181.20 L251.47,180.61 L252.03,180.02 L252.60,179.43 L253.16,178.83 L253.72,178.24 L254.29,177.65 L254.85,177.05 L255.42,176.45 L255.98,175.86 L256.54,175.26 L257.11,174.66 L257.67,174.06 L258.24,173.46 L258.80,172.86 L259.36,172.25 L259.93,171.65 L260.49,171.04 L261.06,170.44 L261.62,169.83 L262.18,169.22 L262.75,168.61 L263.31,168.00 L263.88,167.39 L264.44,166.78 L265.00,166.17 L265.57,165.55 L266.13,164.94 L266.70,164.32 L267.26,163.71 L267.82,163.09 L268.39,162.47 L268.95,161.85 L269.52,161.23 L270.08,160.60 L270.64,159.98 L271.21,159.36 L271.77,158.73 L272.34,158.11 L272.90,157.48 L273.46,156.85 L274.03,156.22 L274.59,155.59 L275.16,154.96 L275.72,154.33 L276.28,153.69 L276.85,153.06 L277.41,152.42 L277.98,151.78 L278.54,151.15 L279.10,150.51 L279.67,149.87 L280.23,149.23 L280.80,148.58 L281.36,147.94 L281.92,147.30 L282.49,146.65 L283.05,146.00 L283.62,145.36 L284.18,144.71 L284.74,144.06 L285.31,143.40 L285.87,142.75 L286.44,142.10 L287.00,141.44 L287.56,140.79 L288.13,140.13 L288.69,139.47 L289.26,138.81 L289.82,138.15 L290.38,137.49 L290.95,136.83 L291.51,136.17 L292.08,135.50 L292.64,134.83 L293.20,134.17 L293.77,133.50 L294.33,132.83 L294.90,132.16 L295.46,131.49 L296.02,130.81 L296.59,130.14 L297.15,129.46 L297.72,128.79 L298.28,128.11 L298.84,127.43 L299.41,126.75 L299.97,126.07 L300.54,125.38 L301.10,124.70 L301.66,124.01 L302.23,123.33 L302.79,122.64 L303.36,121.95 L303.92,121.26 L304.48,120.57 L305.05,119.88 L305.61,119.18 L306.18,118.49 L306.74,117.79 L307.30,117.09 L307.87,116.39 L308.43,115.69 L309.00,114.99 L309.56,114.29 L310.12,113.58 L310.69,112.88 L311.25,112.17 L311.82,111.46 L312.38,110.76 L312.94,110.05 L313.51,109.33 L314.07,108.62 L314.64,107.91 L315.20,107.19 L315.76,106.47 L316.33,105.75 L316.89,105.04 L317.46,104.31 L318.02,103.59 L318.58,102.87 L319.15,102.14 L319.71,101.42 L320.28,100.69 L320.84,99.96 L321.40,99.23 L321.97,98.50 L322.53,97.77 L323.10,97.03 L323.66,96.30 L324.22,95.56 L324.79,94.82 L325.35,94.08 L325.92,93.34 L326.48,92.60 L327.04,91.85 L327.61,91.11 L328.17,90.36 L328.74,89.61 L329.30,88.86 L329.86,88.11 L330.43,87.36 L330.99,86.61 L331.56,85.85 L332.12,85.09 L332.68,84.34 L333.25,83.58 L333.81,82.82 L334.38,82.05 L334.94,81.29 L335.50,80.53 L336.07,79.76 L336.63,78.99 L337.20,78.22 L337.76,77.45 L338.32,76.68 L338.89,75.91 L339.45,75.13 L340.02,74.35 L340.58,73.58 L341.14,72.80 L341.71,72.02 L342.27,71.23 L342.84,70.45 L343.40,69.66 L343.96,68.88 L344.53,68.09 L345.09,67.30 L345.66,66.51 L346.22,65.72 L346.78,64.92 L347.35,64.13 L347.91,63.33 L348.48,62.53 L349.04,61.73 L349.60,60.93 L350.17,60.12 L350.73,59.32 L351.30,58.51 L351.86,57.70 L352.42,56.90 L352.99,56.08 L353.55,55.27 L354.12,54.46 L354.68,53.64 L355.24,52.83 L355.81,52.01 L356.37,51.19 L356.94,50.36 L357.50,49.54 L358.20,48.52" stroke="#000000" stroke-width="1.25" fill="none" stroke-linejoin="round" stroke-linecap="butt"/>
</g><g clip-path="url(#c2)">
<path d="M138.10,629.25 L138.67,629.24 L139.23,629.22 L139.80,629.21 L140.36,629.20 L140.92,629.18 L141.49,629.17 L142.05,629.16 L142.62,629.14 L143.18,629.13 L143.74,629.11 L144.31,629.09 L144.87,629.08 L145.44,629.06 L146.00,629.04 L146.56,629.03 L147.13,629.01 L147.69,628.99 L148.26,628.97 L148.82,628.96 L149.38,628.94 L149.95,628.92 L150.51,628.90 L151.08,628.88 L151.64,628.86 L152.20,628.84 L152.77,628.82 L153.33,628.80 L153.90,628.78 L154.46,628.76 L155.02,628.74 L155.59,628.72 L156.15,628.69 L156.72,628.67 L157.28,628.64 L157.84,628.62 L158.41,628.58 L158.97,628.55 L159.54,628.52 L160.10,628.48 L160.66,628.44 L161.23,628.39 L161.79,628.34 L162.36,628.29 L162.92,628.24 L163.48,628.18 L164.05,628.11 L164.61,628.04 L165.18,627.97 L165.74,627.89 L166.30,627.80 L166.87,627.71 L167.43,627.62 L168.00,627.51 L168.56,627.40 L169.12,627.29 L169.69,627.17 L170.25,627.04 L170.82,626.90 L171.38,626.76 L171.94,626.61 L172.51,626.46 L173.07,626.29 L173.64,626.12 L174.20,625.95 L174.76,625.77 L175.33,625.58 L175.89,625.39 L176.46,625.19 L177.02,624.98 L177.58,624.77 L178.15,624.56 L178.71,624.33 L179.28,624.11 L179.84,623.87 L180.40,623.63 L180.97,623.39 L181.53,623.15 L182.10,622.89 L182.66,622.64 L183.22,622.38 L183.79,622.12 L184.35,621.85 L184.92,621.58 L185.48,621.31 L186.04,621.03 L186.61,620.75 L187.17,620.47 L187.74,620.19 L188.30,619.91 L188.86,619.62 L189.43,619.33 L189.99,619.04 L190.56,618.75 L191.12,618.46 L191.68,618.17 L192.25,617.87 L192.81,617.58 L193.38,617.29 L193.94,616.99 L194.50,616.70 L195.07,616.41 L195.63,616.12 L196.20,615.82 L196.76,615.53 L197.32,615.23 L197.89,614.94 L198.45,614.64 L199.02,614.33 L199.58,614.03 L200.14,613.72 L200.71,613.41 L201.27,613.10 L201.84,612.78 L202.40,612.45 L202.96,612.12 L203.53,611.79 L204.09,611.45 L204.66,611.11 L205.22,610.76 L205.78,610.40 L206.35,610.04 L206.91,609.67 L207.48,609.30 L208.04,608.93 L208.60,608.54 L209.17,608.16 L209.73,607.76 L210.30,607.37 L210.86,606.96 L211.42,606.55 L211.99,606.14 L212.55,605.72 L213.12,605.30 L213.68,604.87 L214.24,604.43 L214.81,603.99 L215.37,603.55 L215.94,603.09 L216.50,602.64 L217.06,602.18 L217.63,601.71 L218.19,601.24 L218.76,600.76 L219.32,600.27 L219.88,599.78 L220.45,599.29 L221.01,598.79 L221.58,598.29 L222.14,597.77 L222.70,597.26 L223.27,596.74 L223.83,596.21 L224.40,595.68 L224.96,595.14 L225.52,594.60 L226.09,594.05 L226.65,593.49 L227.22,592.93 L227.78,592.37 L228.34,591.80 L228.91,591.22 L229.47,590.64 L230.04,590.05 L230.60,589.46 L231.16,588.86 L231.73,588.26 L232.29,587.65 L232.86,587.04 L233.42,586.42 L233.98,585.79 L234.55,585.16 L235.11,584.53 L235.68,583.89 L236.24,583.24 L236.80,582.59 L237.37,581.94 L237.93,581.27 L238.50,580.61 L239.06,579.94 L239.62,579.26 L240.19,578.58 L240.75,577.89 L241.32,577.20 L241.88,576.51 L242.44,575.81 L243.01,575.10 L243.57,574.39 L244.14,573.68 L244.70,572.96 L245.26,572.23 L245.83,571.50 L246.39,570.77 L246.96,570.03 L247.52,569.29 L248.08,568.54 L248.65,567.79 L249.21,567.03 L249.78,566.27 L250.34,565.51 L250.90,564.74 L251.47,563.96 L252.03,563.19 L252.60,562.40 L253.16,561.62 L253.72,560.82 L254.29,560.03 L254.85,559.23 L255.42,558.43 L255.98,557.62 L256.54,556.81 L257.11,555.99 L257.67,555.17 L258.24,554.35 L258.80,553.52 L259.36,552.69 L259.93,551.85 L260.49,551.02 L261.06,550.17 L261.62,549.33 L262.18,548.48 L262.75,547.62 L263.31,546.76 L263.88,545.90 L264.44,545.04 L265.00,544.17 L265.57,543.30 L266.13,542.42 L266.70,541.54 L267.26,540.66 L267.82,539.77 L268.39,538.88 L268.95,537.99 L269.52,537.09 L270.08,536.19 L270.64,535.29 L271.21,534.38 L271.77,533.47 L272.34,532.56 L272.90,531.65 L273.46,530.73 L274.03,529.81 L274.59,528.89 L275.16,527.96 L275.72,527.03 L276.28,526.10 L276.85,525.17 L277.41,524.23 L277.98,523.30 L278.54,522.36 L279.10,521.42 L279.67,520.47 L280.23,519.53 L280.80,518.58 L281.36,517.63 L281.92,516.68 L282.49,515.72 L283.05,514.77 L283.62,513.81 L284.18,512.86 L284.74,511.90 L285.31,510.94 L285.87,509.97 L286.44,509.01 L287.00,508.05 L287.56,507.08 L288.13,506.11 L288.69,505.15 L289.26,504.18 L289.82,503.21 L290.38,502.24 L290.95,501.27 L291.51,500.30 L292.08,499.33 L292.64,498.35 L293.20,497.38 L293.77,496.41 L294.33,495.43 L294.90,494.46 L295.46,493.49 L296.02,492.51 L296.59,491.54 L297.15,490.57 L297.72,489.59 L298.28,488.62 L298.84,487.65 L299.41,486.67 L299.97,485.70 L300.54,484.73 L301.10,483.76 L301.66,482.79 L302.23,481.82 L302.79,480.85 L303.36,479.88 L303.92,478.91 L304.48,477.95 L305.05,476.98 L305.61,476.02 L306.18,475.05 L306.74,474.09 L307.30,473.13 L307.87,472.17 L308.43,471.21 L309.00,470.26 L309.56,469.30 L310.12,468.35 L310.69,467.40 L311.25,466.45 L311.82,465.50 L312.38,464.55 L312.94,463.61 L313.51,462.67 L314.07,461.73 L314.64,460.79 L315.20,459.86 L315.76,458.92 L316.33,457.99 L316.89,457.07 L317.46,456.14 L318.02,455.22 L318.58,454.31 L319.15,453.39 L319.71,452.48 L320.28,451.57 L320.84,450.67 L321.40,449.76 L321.97,448.87 L322.53,447.97 L323.10,447.08 L323.66,446.19 L324.22,445.31 L324.79,444.43 L325.35,443.55 L325.92,442.68 L326.48,441.82 L327.04,440.95 L327.61,440.10 L328.17,439.24 L328.74,438.39 L329.30,437.55 L329.86,436.71 L330.43,435.87 L330.99,435.04 L331.56,434.22 L332.12,433.40 L332.68,432.58 L333.25,431.77 L333.81,430.97 L334.38,430.17 L334.94,429.37 L335.50,428.58 L336.07,427.80 L336.63,427.01 L337.20,426.23 L337.76,425.46 L338.32,424.69 L338.89,423.92 L339.45,423.16 L340.02,422.40 L340.58,421.64 L341.14,420.88 L341.71,420.13 L342.27,419.38 L342.84,418.63 L343.40,417.89 L343.96,417.14 L344.53,416.40 L345.09,415.66 L345.66,414.92 L346.22,414.18 L346.78,413.44 L347.35,412.71 L347.91,411.97 L348.48,411.24 L349.04,410.50 L349.60,409.77 L350.17,409.03 L350.73,408.30 L351.30,407.56 L351.86,406.82 L352.42,406.09 L352.99,405.35 L353.55,404.61 L354.12,403.87 L354.68,403.13 L355.24,402.39 L355.81,401.64 L356.37,400.90 L356.94,400.15 L357.50,399.40 L358.20,398.47" stroke="#00ff00" stroke-width="1.25" fill="none" stroke-linejoin="round" stroke-linecap="butt"/>
<path d="M132.46,629.24 L133.03,629.24 L133.59,629.23 L134.16,629.23 L134.72,629.24 L135.28,629.25 L135.85,629.26 L136.41,629.28 L136.98,629.31 L137.54,629.35 L138.10,629.39 L138.67,629.44 L139.23,629.49 L139.80,629.56 L140.36,629.63 L140.92,629.71 L141.49,629.80 L142.05,629.90 L142.62,630.00 L143.18,630.12 L143.74,630.25 L144.31,630.39 L144.87,630.54 L145.44,630.70 L146.00,630.87 L146.56,631.05 L147.13,631.24 L147.69,631.44 L148.26,631.65 L148.82,631.87 L149.38,632.10 L149.95,632.34 L150.51,632.59 L151.08,632.84 L151.64,633.11 L152.20,633.38 L152.77,633.67 L153.33,633.96 L153.90,634.26 L154.46,634.57 L155.02,634.88 L155.59,635.20 L156.15,635.53 L156.72,635.86 L157.28,636.20 L157.84,636.54 L158.41,636.89 L158.97,637.24 L159.54,637.59 L160.10,637.95 L160.66,638.32 L161.23,638.68 L161.79,639.05 L162.36,639.41 L162.92,639.78 L163.48,640.15 L164.05,640.52 L164.61,640.89 L165.18,641.26 L165.74,641.63 L166.30,642.00 L166.87,642.37 L167.43,642.73 L168.00,643.09 L168.56,643.45 L169.12,643.81 L169.69,644.16 L170.25,644.51 L170.82,644.85 L171.38,645.19 L171.94,645.53 L172.51,645.87 L173.07,646.20 L173.64,646.52 L174.20,646.85 L174.76,647.17 L175.33,647.49 L175.89,647.81 L176.46,648.12 L177.02,648.44 L177.58,648.75 L178.15,649.06 L178.71,649.36 L179.28,649.67 L179.84,649.97 L180.40,650.27 L180.97,650.57 L181.53,650.87 L182.10,651.16 L182.66,651.45 L183.22,651.74 L183.79,652.03 L184.35,652.31 L184.92,652.58 L185.48,652.86 L186.04,653.13 L186.61,653.40 L187.17,653.66 L187.74,653.92 L188.30,654.17 L188.86,654.43 L189.43,654.67 L189.99,654.92 L190.56,655.16 L191.12,655.40 L191.68,655.64 L192.25,655.87 L192.81,656.10 L193.38,656.33 L193.94,656.55 L194.50,656.78 L195.07,657.00 L195.63,657.21 L196.20,657.43 L196.76,657.64 L197.32,657.85 L197.89,658.06 L198.45,658.27 L199.02,658.48 L199.58,658.68 L200.14,658.88 L200.71,659.08 L201.27,659.28 L201.84,659.48 L202.40,659.68 L202.96,659.87 L203.53,660.07 L204.09,660.26 L204.66,660.45 L205.22,660.64 L205.78,660.83 L206.35,661.01 L206.91,661.20 L207.48,661.38 L208.04,661.55 L208.60,661.73 L209.17,661.90 L209.73,662.07 L210.30,662.23 L210.86,662.39 L211.42,662.54 L211.99,662.69 L212.55,662.84 L213.12,662.98 L213.68,663.11 L214.24,663.24 L214.81,663.37 L215.37,663.49 L215.94,663.60 L216.50,663.71 L217.06,663.81 L217.63,663.90 L218.19,663.99 L218.76,664.07 L219.32,664.14 L219.88,664.21 L220.45,664.27 L221.01,664.33 L221.58,664.38 L222.14,664.42 L222.70,664.46 L223.27,664.49 L223.83,664.52 L224.40,664.54 L224.96,664.56 L225.52,664.56 L226.09,664.57 L226.65,664.56 L227.22,664.56 L227.78,664.54 L228.34,664.52 L228.91,664.50 L229.47,664.47 L230.04,664.43 L230.60,664.39 L231.16,664.34 L231.73,664.29 L232.29,664.24 L232.86,664.17 L233.42,664.11 L233.98,664.03 L234.55,663.96 L235.11,663.88 L235.68,663.79 L236.24,663.70 L236.80,663.60 L237.37,663.50 L237.93,663.39 L238.50,663.28 L239.06,663.16 L239.62,663.04 L240.19,662.92 L240.75,662.79 L241.32,662.65 L241.88,662.51 L242.44,662.37 L243.01,662.22 L243.57,662.07 L244.14,661.91 L244.70,661.75 L245.26,661.59 L245.83,661.42 L246.39,661.24 L246.96,661.06 L247.52,660.88 L248.08,660.69 L248.65,660.50 L249.21,660.30 L249.78,660.10 L250.34,659.89 L250.90,659.68 L251.47,659.47 L252.03,659.24 L252.60,659.02 L253.16,658.79 L253.72,658.55 L254.29,658.32 L254.85,658.07 L255.42,657.82 L255.98,657.57 L256.54,657.31 L257.11,657.05 L257.67,656.78 L258.24,656.51 L258.80,656.23 L259.36,655.95 L259.93,655.66 L260.49,655.37 L261.06,655.07 L261.62,654.77 L262.18,654.47 L262.75,654.16 L263.31,653.84 L263.88,653.52 L264.44,653.19 L265.00,652.86 L265.57,652.53 L266.13,652.19 L266.70,651.84 L267.26,651.49 L267.82,651.14 L268.39,650.78 L268.95,650.41 L269.52,650.04 L270.08,649.67 L270.64,649.29 L271.21,648.90 L271.77,648.51 L272.34,648.12 L272.90,647.72 L273.46,647.31 L274.03,646.90 L274.59,646.49 L275.16,646.07 L275.72,645.64 L276.28,645.21 L276.85,644.77 L277.41,644.33 L277.98,643.89 L278.54,643.44 L279.10,642.98 L279.67,642.52 L280.23,642.05 L280.80,641.58 L281.36,641.10 L281.92,640.62 L282.49,640.13 L283.05,639.64 L283.62,639.14 L284.18,638.64 L284.74,638.13 L285.31,637.62 L285.87,637.10 L286.44,636.57 L287.00,636.04 L287.56,635.51 L288.13,634.97 L288.69,634.42 L289.26,633.87 L289.82,633.32 L290.38,632.75 L290.95,632.19 L291.51,631.61 L292.08,631.04 L292.64,630.45 L293.20,629.86 L293.77,629.27 L294.33,628.67 L294.90,628.06 L295.46,627.45 L296.02,626.84 L296.59,626.22 L297.15,625.59 L297.72,624.96 L298.28,624.32 L298.84,623.67 L299.41,623.02 L299.97,622.37 L300.54,621.71 L301.10,621.04 L301.66,620.37 L302.23,619.69 L302.79,619.01 L303.36,618.32 L303.92,617.63 L304.48,616.93 L305.05,616.22 L305.61,615.51 L306.18,614.80 L306.74,614.07 L307.30,613.34 L307.87,612.61 L308.43,611.87 L309.00,611.13 L309.56,610.37 L310.12,609.62 L310.69,608.86 L311.25,608.09 L311.82,607.31 L312.38,606.53 L312.94,605.75 L313.51,604.96 L314.07,604.16 L314.64,603.36 L315.20,602.55 L315.76,601.74 L316.33,600.92 L316.89,600.10 L317.46,599.27 L318.02,598.43 L318.58,597.59 L319.15,596.75 L319.71,595.89 L320.28,595.04 L320.84,594.18 L321.40,593.31 L321.97,592.44 L322.53,591.56 L323.10,590.68 L323.66,589.79 L324.22,588.90 L324.79,588.00 L325.35,587.10 L325.92,586.19 L326.48,585.27 L327.04,584.35 L327.61,583.43 L328.17,582.50 L328.74,581.57 L329.30,580.63 L329.86,579.69 L330.43,578.74 L330.99,577.78 L331.56,576.82 L332.12,575.86 L332.68,574.89 L333.25,573.92 L333.81,572.94 L334.38,571.96 L334.94,570.97 L335.50,569.98 L336.07,568.98 L336.63,567.98 L337.20,566.98 L337.76,565.97 L338.32,564.95 L338.89,563.93 L339.45,562.90 L340.02,561.88 L340.58,560.84 L341.14,559.80 L341.71,558.75 L342.27,557.70 L342.84,556.64 L343.40,555.58 L343.96,554.51 L344.53,553.43 L345.09,552.34 L345.66,551.25 L346.22,550.15 L346.78,549.04 L347.35,547.92 L347.91,546.80 L348.48,545.66 L349.04,544.52 L349.60,543.36 L350.17,542.20 L350.73,541.02 L351.30,539.84 L351.86,538.65 L352.42,537.44 L352.99,536.22 L353.55,535.00 L354.12,533.76 L354.68,532.51 L355.24,531.24 L355.81,529.97 L356.37,528.68 L356.94,527.38 L357.50,526.06 L358.20,524.43" stroke="#0000ff" stroke-width="1.25" fill="none" stroke-linejoin="round" stroke-linecap="butt"/>
<path d="M121.18,629.24 L121.75,629.23 L122.31,629.21 L122.88,629.21 L123.44,629.20 L124.00,629.20 L124.57,629.20 L125.13,629.20 L125.70,629.20 L126.26,629.20 L126.82,629.20 L127.39,629.20 L127.95,629.20 L128.52,629.19 L129.08,629.18 L129.64,629.17 L130.21,629.15 L130.77,629.13 L131.34,629.10 L131.90,629.06 L132.46,629.02 L133.03,628.96 L133.59,628.90 L134.16,628.83 L134.72,628.75 L135.28,628.66 L135.85,628.56 L136.41,628.44 L136.98,628.31 L137.54,628.17 L138.10,628.02 L138.67,627.85 L139.23,627.68 L139.80,627.49 L140.36,627.29 L140.92,627.09 L141.49,626.87 L142.05,626.65 L142.62,626.42 L143.18,626.18 L143.74,625.94 L144.31,625.69 L144.87,625.43 L145.44,625.17 L146.00,624.90 L146.56,624.63 L147.13,624.36 L147.69,624.08 L148.26,623.81 L148.82,623.53 L149.38,623.25 L149.95,622.96 L150.51,622.68 L151.08,622.40 L151.64,622.12 L152.20,621.84 L152.77,621.56 L153.33,621.29 L153.90,621.02 L154.46,620.75 L155.02,620.49 L155.59,620.24 L156.15,619.99 L156.72,619.75 L157.28,619.53 L157.84,619.31 L158.41,619.11 L158.97,618.92 L159.54,618.75 L160.10,618.59 L160.66,618.46 L161.23,618.36 L161.79,618.28 L162.36,618.25 L162.92,618.25 L163.48,618.30 L164.05,618.40 L164.61,618.55 L165.18,618.75 L165.74,618.98 L166.30,619.26 L166.87,619.57 L167.43,619.92 L168.00,620.30 L168.56,620.71 L169.12,621.15 L169.69,621.62 L170.25,622.11 L170.82,622.61 L171.38,623.14 L171.94,623.69 L172.51,624.24 L173.07,624.81 L173.64,625.39 L174.20,625.98 L174.76,626.57 L175.33,627.16 L175.89,627.76 L176.46,628.36 L177.02,628.97 L177.58,629.57 L178.15,630.18 L178.71,630.79 L179.28,631.40 L179.84,632.01 L180.40,632.62 L180.97,633.22 L181.53,633.82 L182.10,634.42 L182.66,635.01 L183.22,635.60 L183.79,636.19 L184.35,636.76 L184.92,637.33 L185.48,637.90 L186.04,638.45 L186.61,638.99 L187.17,639.53 L187.74,640.06 L188.30,640.58 L188.86,641.09 L189.43,641.59 L189.99,642.09 L190.56,642.58 L191.12,643.06 L191.68,643.54 L192.25,644.01 L192.81,644.48 L193.38,644.94 L193.94,645.39 L194.50,645.84 L195.07,646.29 L195.63,646.73 L196.20,647.17 L196.76,647.61 L197.32,648.04 L197.89,648.48 L198.45,648.91 L199.02,649.33 L199.58,649.76 L200.14,650.18 L200.71,650.61 L201.27,651.03 L201.84,651.45 L202.40,651.88 L202.96,652.30 L203.53,652.73 L204.09,653.15 L204.66,653.58 L205.22,654.01 L205.78,654.43 L206.35,654.86 L206.91,655.28 L207.48,655.71 L208.04,656.14 L208.60,656.56 L209.17,656.99 L209.73,657.41 L210.30,657.84 L210.86,658.26 L211.42,658.69 L211.99,659.11 L212.55,659.53 L213.12,659.95 L213.68,660.37 L214.24,660.79 L214.81,661.20 L215.37,661.62 L215.94,662.03 L216.50,662.44 L217.06,662.85 L217.63,663.26 L218.19,663.67 L218.76,664.07 L219.32,664.47 L219.88,664.87 L220.45,665.27 L221.01,665.66 L221.58,666.05 L222.14,666.44 L222.70,666.83 L223.27,667.21 L223.83,667.59 L224.40,667.97 L224.96,668.34 L225.52,668.72 L226.09,669.08 L226.65,669.45 L227.22,669.81 L227.78,670.16 L228.34,670.52 L228.91,670.87 L229.47,671.21 L230.04,671.55 L230.60,671.89 L231.16,672.22 L231.73,672.55 L232.29,672.87 L232.86,673.19 L233.42,673.50 L233.98,673.81 L234.55,674.12 L235.11,674.42 L235.68,674.71 L236.24,675.00 L236.80,675.29 L237.37,675.57 L237.93,675.85 L238.50,676.12 L239.06,676.39 L239.62,676.65 L240.19,676.90 L240.75,677.16 L241.32,677.40 L241.88,677.65 L242.44,677.89 L243.01,678.12 L243.57,678.35 L244.14,678.57 L244.70,678.79 L245.26,679.00 L245.83,679.21 L246.39,679.42 L246.96,679.62 L247.52,679.81 L248.08,680.00 L248.65,680.19 L249.21,680.37 L249.78,680.55 L250.34,680.72 L250.90,680.88 L251.47,681.05 L252.03,681.20 L252.60,681.36 L253.16,681.50 L253.72,681.64 L254.29,681.78 L254.85,681.92 L255.42,682.04 L255.98,682.17 L256.54,682.28 L257.11,682.40 L257.67,682.51 L258.24,682.61 L258.80,682.71 L259.36,682.80 L259.93,682.89 L260.49,682.98 L261.06,683.06 L261.62,683.13 L262.18,683.20 L262.75,683.27 L263.31,683.33 L263.88,683.38 L264.44,683.43 L265.00,683.48 L265.57,683.52 L266.13,683.56 L266.70,683.59 L267.26,683.61 L267.82,683.63 L268.39,683.65 L268.95,683.66 L269.52,683.67 L270.08,683.67 L270.64,683.67 L271.21,683.66 L271.77,683.65 L272.34,683.63 L272.90,683.61 L273.46,683.58 L274.03,683.55 L274.59,683.51 L275.16,683.47 L275.72,683.42 L276.28,683.37 L276.85,683.31 L277.41,683.25 L277.98,683.19 L278.54,683.11 L279.10,683.04 L279.67,682.96 L280.23,682.87 L280.80,682.78 L281.36,682.68 L281.92,682.58 L282.49,682.48 L283.05,682.37 L283.62,682.25 L284.18,682.13 L284.74,682.00 L285.31,681.87 L285.87,681.74 L286.44,681.60 L287.00,681.45 L287.56,681.30 L288.13,681.15 L288.69,680.99 L289.26,680.82 L289.82,680.65 L290.38,680.48 L290.95,680.30 L291.51,680.11 L292.08,679.92 L292.64,679.73 L293.20,679.53 L293.77,679.32 L294.33,679.11 L294.90,678.90 L295.46,678.68 L296.02,678.46 L296.59,678.23 L297.15,677.99 L297.72,677.75 L298.28,677.51 L298.84,677.26 L299.41,677.00 L299.97,676.74 L300.54,676.48 L301.10,676.21 L301.66,675.94 L302.23,675.66 L302.79,675.37 L303.36,675.08 L303.92,674.79 L304.48,674.49 L305.05,674.18 L305.61,673.87 L306.18,673.56 L306.74,673.24 L307.30,672.92 L307.87,672.59 L308.43,672.25 L309.00,671.91 L309.56,671.57 L310.12,671.22 L310.69,670.86 L311.25,670.50 L311.82,670.14 L312.38,669.77 L312.94,669.39 L313.51,669.01 L314.07,668.63 L314.64,668.24 L315.20,667.84 L315.76,667.44 L316.33,667.04 L316.89,666.63 L317.46,666.21 L318.02,665.79 L318.58,665.37 L319.15,664.94 L319.71,664.50 L320.28,664.06 L320.84,663.61 L321.40,663.16 L321.97,662.71 L322.53,662.25 L323.10,661.78 L323.66,661.31 L324.22,660.83 L324.79,660.35 L325.35,659.87 L325.92,659.38 L326.48,658.88 L327.04,658.38 L327.61,657.87 L328.17,657.36 L328.74,656.84 L329.30,656.32 L329.86,655.79 L330.43,655.26 L330.99,654.72 L331.56,654.18 L332.12,653.63 L332.68,653.08 L333.25,652.52 L333.81,651.96 L334.38,651.39 L334.94,650.82 L335.50,650.24 L336.07,649.66 L336.63,649.07 L337.20,648.47 L337.76,647.88 L338.32,647.27 L338.89,646.66 L339.45,646.05 L340.02,645.43 L340.58,644.80 L341.14,644.17 L341.71,643.54 L342.27,642.90 L342.84,642.25 L343.40,641.60 L343.96,640.95 L344.53,640.29 L345.09,639.62 L345.66,638.95 L346.22,638.28 L346.78,637.59 L347.35,636.91 L347.91,636.22 L348.48,635.52 L349.04,634.82 L349.60,634.11 L350.17,633.40 L350.73,632.68 L351.30,631.96 L351.86,631.23 L352.42,630.50 L352.99,629.76 L353.55,629.01 L354.12,628.27 L354.68,627.51 L355.24,626.75 L355.81,625.99 L356.37,625.22 L356.94,624.44 L357.50,623.66 L358.20,622.70" stroke="#ff0000" stroke-width="1.25" fill="none" stroke-linejoin="round" stroke-linecap="butt"/>
<path d="M75.50,629.30 L76.06,629.30 L76.63,629.30 L77.19,629.30 L77.76,629.30 L78.32,629.30 L78.88,629.30 L79.45,629.30 L80.01,629.30 L80.58,629.30 L81.14,629.30 L81.70,629.30 L82.27,629.30 L82.83,629.30 L83.40,629.30 L83.96,629.30 L84.52,629.30 L85.09,629.30 L85.65,629.30 L86.22,629.30 L86.78,629.30 L87.34,629.30 L87.91,629.30 L88.47,629.30 L89.04,629.30 L89.60,629.30 L90.16,629.30 L90.73,629.30 L91.29,629.30 L91.86,629.30 L92.42,629.30 L92.98,629.30 L93.55,629.30 L94.11,629.30 L94.68,629.30 L95.24,629.30 L95.80,629.30 L96.37,629.30 L96.93,629.30 L97.50,629.30 L98.06,629.30 L98.62,629.30 L99.19,629.30 L99.75,629.30 L100.32,629.30 L100.88,629.30 L101.44,629.30 L102.01,629.30 L102.57,629.30 L103.14,629.30 L103.70,629.30 L104.26,629.30 L104.83,629.30 L105.39,629.30 L105.96,629.30 L106.52,629.30 L107.08,629.30 L107.65,629.30 L108.21,629.30 L108.78,629.30 L109.34,629.30 L109.90,629.30 L110.47,629.30 L111.03,629.30 L111.60,629.30 L112.16,629.30 L112.72,629.30 L113.29,629.30 L113.85,629.30 L114.42,629.30 L114.98,629.30 L115.54,629.32 L116.11,629.34 L116.67,629.35 L117.24,629.36 L117.80,629.37 L118.36,629.38 L118.93,629.39 L119.49,629.39 L120.06,629.40 L120.62,629.41 L121.18,629.43 L121.75,629.45 L122.31,629.47 L122.88,629.50 L123.44,629.54 L124.00,629.58 L124.57,629.64 L125.13,629.70 L125.70,629.78 L126.26,629.87 L126.82,629.97 L127.39,630.08 L127.95,630.21 L128.52,630.35 L129.08,630.51 L129.64,630.68 L130.21,630.87 L130.77,631.07 L131.34,631.28 L131.90,631.49 L132.46,631.72 L133.03,631.95 L133.59,632.18 L134.16,632.42 L134.72,632.66 L135.28,632.90 L135.85,633.14 L136.41,633.38 L136.98,633.61 L137.54,633.84 L138.10,634.07 L138.67,634.29 L139.23,634.51 L139.80,634.72 L140.36,634.93 L140.92,635.13 L141.49,635.33 L142.05,635.52 L142.62,635.71 L143.18,635.89 L143.74,636.07 L144.31,636.23 L144.87,636.40 L145.44,636.55 L146.00,636.70 L146.56,636.84 L147.13,636.98 L147.69,637.11 L148.26,637.23 L148.82,637.34 L149.38,637.45 L149.95,637.54 L150.51,637.63 L151.08,637.71 L151.64,637.78 L152.20,637.85 L152.77,637.90 L153.33,637.95 L153.90,637.98 L154.46,638.01 L155.02,638.01 L155.59,638.01 L156.15,637.98 L156.72,637.94 L157.28,637.88 L157.84,637.79 L158.41,637.68 L158.97,637.55 L159.54,637.39 L160.10,637.19 L160.66,636.98 L161.23,636.74 L161.79,636.48 L162.36,636.20 L162.92,635.90 L163.48,635.58 L164.05,635.25 L164.61,634.91 L165.18,634.55 L165.74,634.19 L166.30,633.81 L166.87,633.43 L167.43,633.04 L168.00,632.65 L168.56,632.24 L169.12,631.83 L169.69,631.41 L170.25,630.98 L170.82,630.54 L171.38,630.10 L171.94,629.64 L172.51,629.19 L173.07,628.72 L173.64,628.24 L174.20,627.76 L174.76,627.28 L175.33,626.79 L175.89,626.30 L176.46,625.82 L177.02,625.33 L177.58,624.86 L178.15,624.39 L178.71,623.94 L179.28,623.50 L179.84,623.08 L180.40,622.67 L180.97,622.29 L181.53,621.92 L182.10,621.57 L182.66,621.25 L183.22,620.94 L183.79,620.65 L184.35,620.38 L184.92,620.14 L185.48,619.94 L186.04,619.79 L186.61,619.71 L187.17,619.71 L187.74,619.80 L188.30,619.97 L188.86,620.21 L189.43,620.53 L189.99,620.90 L190.56,621.33 L191.12,621.81 L191.68,622.33 L192.25,622.89 L192.81,623.47 L193.38,624.07 L193.94,624.69 L194.50,625.31 L195.07,625.93 L195.63,626.55 L196.20,627.17 L196.76,627.80 L197.32,628.42 L197.89,629.05 L198.45,629.68 L199.02,630.30 L199.58,630.93 L200.14,631.56 L200.71,632.19 L201.27,632.82 L201.84,633.45 L202.40,634.08 L202.96,634.71 L203.53,635.34 L204.09,635.97 L204.66,636.61 L205.22,637.24 L205.78,637.87 L206.35,638.50 L206.91,639.13 L207.48,639.75 L208.04,640.38 L208.60,641.01 L209.17,641.64 L209.73,642.26 L210.30,642.89 L210.86,643.51 L211.42,644.14 L211.99,644.76 L212.55,645.38 L213.12,646.00 L213.68,646.62 L214.24,647.23 L214.81,647.85 L215.37,648.46 L215.94,649.07 L216.50,649.69 L217.06,650.29 L217.63,650.90 L218.19,651.50 L218.76,652.11 L219.32,652.71 L219.88,653.30 L220.45,653.90 L221.01,654.49 L221.58,655.08 L222.14,655.67 L222.70,656.26 L223.27,656.84 L223.83,657.42 L224.40,658.00 L224.96,658.57 L225.52,659.14 L226.09,659.71 L226.65,660.27 L227.22,660.83 L227.78,661.39 L228.34,661.95 L228.91,662.50 L229.47,663.05 L230.04,663.60 L230.60,664.14 L231.16,664.68 L231.73,665.22 L232.29,665.75 L232.86,666.28 L233.42,666.81 L233.98,667.33 L234.55,667.85 L235.11,668.37 L235.68,668.88 L236.24,669.39 L236.80,669.90 L237.37,670.40 L237.93,670.90 L238.50,671.40 L239.06,671.89 L239.62,672.38 L240.19,672.87 L240.75,673.35 L241.32,673.83 L241.88,674.31 L242.44,674.78 L243.01,675.25 L243.57,675.72 L244.14,676.18 L244.70,676.64 L245.26,677.10 L245.83,677.55 L246.39,678.00 L246.96,678.45 L247.52,678.89 L248.08,679.32 L248.65,679.76 L249.21,680.19 L249.78,680.62 L250.34,681.04 L250.90,681.46 L251.47,681.88 L252.03,682.29 L252.60,682.70 L253.16,683.10 L253.72,683.50 L254.29,683.90 L254.85,684.30 L255.42,684.69 L255.98,685.07 L256.54,685.45 L257.11,685.83 L257.67,686.21 L258.24,686.58 L258.80,686.95 L259.36,687.31 L259.93,687.67 L260.49,688.03 L261.06,688.38 L261.62,688.72 L262.18,689.07 L262.75,689.41 L263.31,689.74 L263.88,690.08 L264.44,690.40 L265.00,690.73 L265.57,691.05 L266.13,691.36 L266.70,691.68 L267.26,691.98 L267.82,692.29 L268.39,692.59 L268.95,692.88 L269.52,693.17 L270.08,693.46 L270.64,693.74 L271.21,694.02 L271.77,694.30 L272.34,694.57 L272.90,694.84 L273.46,695.10 L274.03,695.36 L274.59,695.61 L275.16,695.86 L275.72,696.11 L276.28,696.35 L276.85,696.58 L277.41,696.82 L277.98,697.04 L278.54,697.27 L279.10,697.49 L279.67,697.70 L280.23,697.91 L280.80,698.12 L281.36,698.32 L281.92,698.52 L282.49,698.71 L283.05,698.90 L283.62,699.09 L284.18,699.27 L284.74,699.44 L285.31,699.61 L285.87,699.78 L286.44,699.94 L287.00,700.10 L287.56,700.25 L288.13,700.40 L288.69,700.54 L289.26,700.68 L289.82,700.81 L290.38,700.94 L290.95,701.07 L291.51,701.19 L292.08,701.31 L292.64,701.42 L293.20,701.52 L293.77,701.63 L294.33,701.72 L294.90,701.81 L295.46,701.90 L296.02,701.99 L296.59,702.06 L297.15,702.14 L297.72,702.21 L298.28,702.27 L298.84,702.33 L299.41,702.38 L299.97,702.43 L300.54,702.48 L301.10,702.51 L301.66,702.55 L302.23,702.58 L302.79,702.60 L303.36,702.62 L303.92,702.64 L304.48,702.65 L305.05,702.65 L305.61,702.65 L306.18,702.65 L306.74,702.64 L307.30,702.62 L307.87,702.60 L308.43,702.58 L309.00,702.55 L309.56,702.51 L310.12,702.47 L310.69,702.43 L311.25,702.37 L311.82,702.32 L312.38,702.26 L312.94,702.19 L313.51,702.12 L314.07,702.04 L314.64,701.96 L315.20,701.88 L315.76,701.78 L316.33,701.69 L316.89,701.58 L317.46,701.47 L318.02,701.36 L318.58,701.24 L319.15,701.12 L319.71,700.99 L320.28,700.86 L320.84,700.72 L321.40,700.57 L321.97,700.42 L322.53,700.26 L323.10,700.10 L323.66,699.93 L324.22,699.76 L324.79,699.58 L325.35,699.40 L325.92,699.21 L326.48,699.02 L327.04,698.82 L327.61,698.61 L328.17,698.40 L328.74,698.19 L329.30,697.96 L329.86,697.74 L330.43,697.50 L330.99,697.26 L331.56,697.02 L332.12,696.77 L332.68,696.51 L333.25,696.25 L333.81,695.99 L334.38,695.71 L334.94,695.44 L335.50,695.15 L336.07,694.86 L336.63,694.57 L337.20,694.26 L337.76,693.96 L338.32,693.65 L338.89,693.33 L339.45,693.00 L340.02,692.67 L340.58,692.34 L341.14,691.99 L341.71,691.65 L342.27,691.29 L342.84,690.93 L343.40,690.57 L343.96,690.20 L344.53,689.82 L345.09,689.44 L345.66,689.05 L346.22,688.65 L346.78,688.25 L347.35,687.84 L347.91,687.43 L348.48,687.01 L349.04,686.58 L349.60,686.15 L350.17,685.72 L350.73,685.27 L351.30,684.82 L351.86,684.37 L352.42,683.90 L352.99,683.44 L353.55,682.96 L354.12,682.48 L354.68,682.00 L355.24,681.50 L355.81,681.00 L356.37,680.50 L356.94,679.99 L357.50,679.47 L358.20,678.83" stroke="#000000" stroke-width="1.25" fill="none" stroke-linejoin="round" stroke-linecap="butt"/>
</g>
</g>
<g id="ticklabels">
<text x="72.00" y="337.53" font-size="10.3" text-anchor="end" >2</text>
<text x="72.00" y="288.46" font-size="10.3" text-anchor="end" >4</text>
<text x="72.00" y="239.39" font-size="10.3" text-anchor="end" >6</text>
<text x="72.00" y="190.31" font-size="10.3" text-anchor="end" >8</text>
<text x="72.00" y="141.24" font-size="10.3" text-anchor="end" >10</text>
<text x="72.00" y="92.17" font-size="10.3" text-anchor="end" >12</text>
<text x="72.00" y="43.10" font-size="10.3" text-anchor="end" >14</text>
<text x="72.00" y="730.10" font-size="10.3" text-anchor="end" >-1.0</text>
<text x="72.00" y="681.03" font-size="10.3" text-anchor="end" >-0.5</text>
<text x="72.00" y="631.96" font-size="10.3" text-anchor="end" >0.0</text>
<text x="72.00" y="582.89" font-size="10.3" text-anchor="end" >0.5</text>
<text x="72.00" y="533.81" font-size="10.3" text-anchor="end" >1.0</text>
<text x="72.00" y="484.74" font-size="10.3" text-anchor="end" >1.5</text>
<text x="72.00" y="435.67" font-size="10.3" text-anchor="end" >2.0</text>
<text x="75.60" y="739.00" font-size="10.3" text-anchor="middle" >0</text>
<text x="132.00" y="739.00" font-size="10.3" text-anchor="middle" >1</text>
<text x="188.40" y="739.00" font-size="10.3" text-anchor="middle" >2</text>
<text x="244.80" y="739.00" font-size="10.3" text-anchor="middle" >3</text>
<text x="301.20" y="739.00" font-size="10.3" text-anchor="middle" >4</text>
<text x="357.60" y="739.00" font-size="10.3" text-anchor="middle" >5</text>
</g>
<g id="annot">
<g transform="translate(93.2,76.7) scale(0.885,1)"><text x="0" y="0" font-size="21">U</text></g>
<g transform="translate(117.1,76.7) scale(0.885,1)"><text x="0" y="0" font-size="21">0</text></g>
<path d="M106.5,69.4 H116.1 M106.5,73.4 H116.1" stroke="#000" stroke-width="1.25" fill="none"/>
<g transform="translate(112.4,101.9) scale(0.885,1)"><text x="0" y="0" font-size="21">1</text></g>
<path d="M102.6,94.8 H111.8 M102.6,98.8 H111.8" stroke="#000" stroke-width="1.25" fill="none"/>
<path d="M93.0,95.4 C93.3,93.3 94.5,92.5 95.5,93.1 C96.5,93.8 96.9,95.4 97.5,97.4 L99.4,103.6 C99.9,105.2 100.7,105.6 101.6,104.3" fill="none" stroke="#000" stroke-width="1.5" stroke-linecap="round"/>
<path d="M100.9,92.8 L93.7,105.7" fill="none" stroke="#000" stroke-width="0.8" stroke-linecap="round"/>
<!-- legend -->
<line x1="87" y1="419.65" x2="129.4" y2="419.65" stroke="#00ff00" stroke-width="1.05"/>
<line x1="87" y1="444.50" x2="129.4" y2="444.50" stroke="#0000ff" stroke-width="1.05"/>
<line x1="87" y1="469.35" x2="129.4" y2="469.35" stroke="#ff0000" stroke-width="1.05"/>
<line x1="87" y1="494.20" x2="129.4" y2="494.20" stroke="#000000" stroke-width="1.05"/>
<g transform="translate(134.1,426.05) scale(0.9,1)"><text x="0" y="0" font-size="19.5">n<tspan dy="1.4">=</tspan><tspan dy="-1.4">1</tspan></text></g>
<g transform="translate(134.1,450.90) scale(0.9,1)"><text x="0" y="0" font-size="19.5">n<tspan dy="1.4">=</tspan><tspan dy="-1.4">2</tspan></text></g>
<g transform="translate(134.1,475.75) scale(0.9,1)"><text x="0" y="0" font-size="19.5">n<tspan dy="1.4">=</tspan><tspan dy="-1.4">3</tspan></text></g>
<g transform="translate(134.1,500.60) scale(0.9,1)"><text x="0" y="0" font-size="19.5">n<tspan dy="1.4">=</tspan><tspan dy="-1.4">4</tspan></text></g>
<!-- y title top -->
<g transform="translate(49,82.5) rotate(-90)">
<g transform="scale(0.82,1)"><text x="0" y="0" font-size="18.3">E</text></g>
<line x1="0.3" y1="-14.6" x2="9" y2="-14.6" stroke="#000" stroke-width="0.9"/>
<text x="9.8" y="3.8" font-size="10">n0</text>
</g>
<!-- y title bottom -->
<g transform="translate(47,426) rotate(-90)">
<g transform="scale(0.74,1)"><text x="0" y="0" font-size="16.2">ΔE</text></g>
<line x1="7.8" y1="-12.6" x2="15" y2="-12.6" stroke="#000" stroke-width="0.8"/>
<text x="16.5" y="3.5" font-size="7.5">n0</text>
</g>
<!-- x title -->
<g>
<text x="330.3" y="753.7" font-size="14">B</text>
<line x1="331.0" y1="742.3" x2="339.0" y2="742.3" stroke="#000" stroke-width="0.75"/>
<path d="M320.3,749.1 L322.1,748.0" fill="none" stroke="#000" stroke-width="0.8"/>
<path d="M322.0,747.9 L325.3,753.9" fill="none" stroke="#000" stroke-width="1.5"/>
<path d="M325.4,754.4 L329.3,740.0 L340.5,740.0" fill="none" stroke="#000" stroke-width="0.75"/>
</g>
</g>
</svg>
</body></html>
